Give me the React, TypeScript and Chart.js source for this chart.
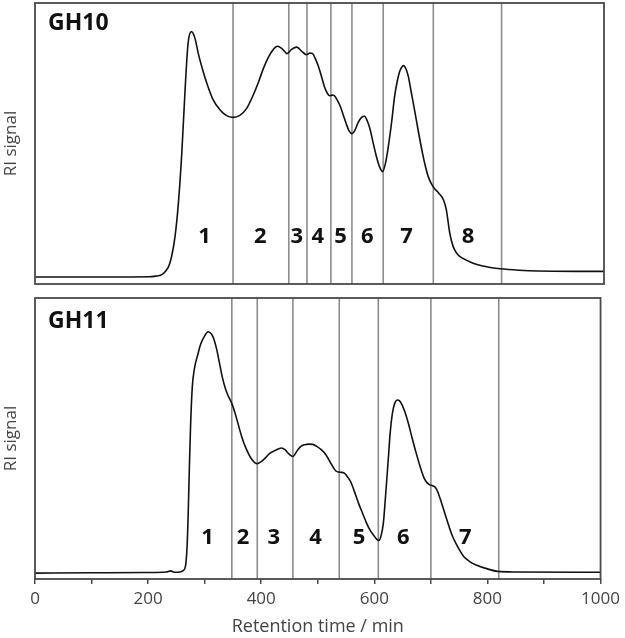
import React, { useEffect, useRef } from "react";
import { Chart, registerables } from "chart.js";

Chart.register(...registerables);

// ---- Data (retention time in min, RI signal in % of panel height) ----
const gh10Time = [0, 100, 200, 212, 220, 228, 237, 246, 252, 258, 264, 269, 275, 281, 287, 295, 302, 312, 325, 336, 348, 360, 372, 383, 393, 402, 411, 419, 426, 434, 443, 451, 460, 468, 477, 483, 488, 493, 498, 504, 509, 514, 518, 522, 526, 531, 537, 542, 547, 552, 557, 563, 568, 574, 579, 584, 589, 594, 600, 606, 611, 616, 621, 627, 632, 637, 641, 645, 648, 652, 656, 661, 667, 674, 681, 686, 691, 697, 702, 709, 718, 723, 729, 735, 741, 747, 758, 770, 785, 800, 818, 850, 884, 950, 1000];
const gh10Signal = [2.5, 2.5, 2.6, 2.8, 3.1, 4.2, 7.4, 16.8, 28.8, 46.6, 70, 85.6, 89.8, 87.5, 82, 76, 71.4, 66, 62, 60, 59.3, 60, 62.5, 67, 72, 77, 81, 83.5, 84.6, 83.8, 82, 83.5, 84.3, 83, 81.6, 82.2, 82, 80, 77.5, 73.5, 70, 67.8, 67, 67.2, 67, 65.5, 63, 60, 57, 54.5, 53.5, 55, 57.5, 59.3, 59.7, 58, 55, 50.5, 45.4, 41.5, 40, 43, 49, 58, 66.8, 72.5, 75.7, 77.3, 77.7, 76.5, 74, 68.5, 62, 54, 46.6, 42, 38.3, 35.5, 34, 32.5, 29.9, 26.3, 18, 13.3, 11, 9.7, 8.5, 7.4, 6.5, 5.9, 5.4, 4.9, 4.6, 4.5, 4.5];

const gh11Time = [0, 100, 200, 232, 240, 246, 256, 262, 266, 269, 271, 273, 275, 278, 282, 288, 293, 300, 306, 312, 316, 321, 326, 331, 337, 342, 348, 353, 358, 365, 372, 382, 393, 400, 407, 414, 421, 429, 436, 442, 449, 456, 463, 470, 477, 484, 491, 498, 505, 512, 518, 523, 528, 533, 540, 547, 552, 558, 565, 572, 579, 586, 593, 600, 604, 608, 612, 616, 620, 625, 628, 632, 636, 641, 645, 649, 654, 660, 667, 674, 681, 688, 693, 698, 703, 709, 714, 719, 726, 733, 738, 744, 751, 758, 768, 779, 800, 818, 850, 1000];
const gh11Signal = [2.1, 2.2, 2.3, 2.5, 2.9, 2.4, 2.5, 3, 4.5, 12, 24, 40, 54, 68, 75, 80, 83.6, 86.5, 88, 87.2, 85.5, 82, 77, 72, 67.5, 65, 62.5, 59.5, 56, 51, 47, 43, 41, 41.8, 43, 44.5, 45.4, 46.2, 46.6, 46, 44.5, 43.6, 45.5, 47.2, 47.8, 48, 47.9, 47.2, 46.2, 44.8, 43, 41.2, 39.5, 38.3, 38, 37.7, 36.5, 34.7, 31, 27, 23.5, 20, 17.2, 15.2, 14.2, 13.7, 15.5, 20, 30, 43.6, 52, 59, 62.5, 63.7, 63.3, 62, 59.5, 55.5, 50, 44.8, 40, 35.9, 34.3, 33.5, 33.2, 32.3, 30, 27, 22.5, 18.1, 15.3, 12.8, 10.2, 8, 6.3, 5.1, 3.6, 2.7, 2.5, 2.4];

const gh10Cuts = [348, 446, 478, 520, 557, 612, 700, 820];
const gh11Cuts = [348, 393, 456, 538, 607, 700, 820];

const gh10Fractions = ["1", "2", "3", "4", "5", "6", "7", "8"];
const gh10FractionX = [298, 396, 460, 497, 537, 584, 653, 761];
const gh11Fractions = ["1", "2", "3", "4", "5", "6", "7"];
const gh11FractionX = [305, 368, 422, 496, 573, 651, 761];

const xTickLabels = [0, 200, 400, 600, 800, 1000];

const FONT = "'Open Sans', 'DejaVu Sans', sans-serif";

type PanelCfg = {
  title: string;
  titleOffset: number;
  time: number[];
  signal: number[];
  cuts: number[];
  fractions: string[];
  fractionX: number[];
  fractionY: number;
  showXAxis: boolean;
};

function makeDecor(cfg: PanelCfg) {
  return {
    id: "panelDecor",
    afterDatasetsDraw(chart: any) {
      const { ctx, chartArea, scales } = chart;
      const xs = scales.x;
      const ys = scales.y;
      ctx.save();
      // box
      ctx.strokeStyle = "#4a4a4a";
      ctx.lineWidth = 1.8;
      ctx.strokeRect(chartArea.left, chartArea.top, chartArea.right - chartArea.left, chartArea.bottom - chartArea.top);
      // fraction numbers
      ctx.fillStyle = "#111";
      ctx.font = `bold 22px ${FONT}`;
      ctx.textAlign = "center";
      ctx.textBaseline = "middle";
      cfg.fractions.forEach((f, i) => {
        ctx.fillText(f, xs.getPixelForValue(cfg.fractionX[i]), ys.getPixelForValue(cfg.fractionY));
      });
      // panel title
      ctx.font = `bold 23px ${FONT}`;
      ctx.textAlign = "left";
      ctx.fillText(cfg.title, chartArea.left + 13, chartArea.top + cfg.titleOffset);
      // y label
      ctx.font = `17px ${FONT}`;
      ctx.fillStyle = "#444";
      ctx.textAlign = "center";
      ctx.translate(11, (chartArea.top + chartArea.bottom) / 2);
      ctx.rotate(-Math.PI / 2);
      ctx.fillText("RI signal", 0, 0);
      ctx.restore();
    },
  };
}

function Panel({ cfg, height, padTop, padBottom }: { cfg: PanelCfg; height: number; padTop: number; padBottom: number }) {
  const ref = useRef<HTMLCanvasElement | null>(null);
  useEffect(() => {
    if (!ref.current) return;
    const datasets: any[] = [
      {
        data: cfg.time.map((t, i) => ({ x: t, y: cfg.signal[i] })),
        borderColor: "#111",
        borderWidth: 1.6,
        pointRadius: 0,
        cubicInterpolationMode: "monotone",
        fill: false,
        order: 0,
      },
      ...cfg.cuts.map((c) => ({
        data: [
          { x: c, y: 0 },
          { x: c, y: 100 },
        ],
        borderColor: "#8c8c8c",
        borderWidth: 1.6,
        pointRadius: 0,
        fill: false,
        order: 1,
      })),
    ];
    const chart = new Chart(ref.current, {
      type: "line",
      data: { datasets },
      plugins: [makeDecor(cfg)],
      options: {
        animation: false,
        responsive: false,
        maintainAspectRatio: false,
        layout: { padding: { left: 35, right: 21, top: padTop, bottom: padBottom } },
        plugins: { legend: { display: false }, tooltip: { enabled: false } },
        scales: {
          x: {
            type: "linear",
            min: 0,
            max: 1000,
            display: cfg.showXAxis,
            border: { display: false },
            grid: { drawOnChartArea: false, drawTicks: true, tickLength: 5, color: "#4a4a4a", lineWidth: 1.5 },
            ticks: {
              stepSize: 100,
              autoSkip: false,
              maxRotation: 0,
              padding: 5,
              color: "#444",
              font: { family: FONT, size: 17 },
              callback: (v: any) => (xTickLabels.includes(Number(v)) ? String(v) : ""),
            },
            title: {
              display: cfg.showXAxis,
              text: "Retention time / min",
              color: "#444",
              font: { family: FONT, size: 18 },
              padding: { top: 0, bottom: 0 },
            },
            afterFit: (s: any) => {
              if (cfg.showXAxis) s.height = 59;
            },
          } as any,
          y: { type: "linear", min: 0, max: 100, display: false },
        },
      },
    });
    return () => chart.destroy();
  }, []);
  return <canvas ref={ref} width={625} height={height} style={{ display: "block", width: 625, height }} />;
}

const gh10Cfg: PanelCfg = {
  title: "GH10",
  titleOffset: 20,
  time: gh10Time,
  signal: gh10Signal,
  cuts: gh10Cuts,
  fractions: gh10Fractions,
  fractionX: gh10FractionX,
  fractionY: 16.8,
  showXAxis: false,
};

const gh11Cfg: PanelCfg = {
  title: "GH11",
  titleOffset: 23,
  time: gh11Time,
  signal: gh11Signal,
  cuts: gh11Cuts,
  fractions: gh11Fractions,
  fractionX: gh11FractionX,
  fractionY: 14.6,
  showXAxis: true,
};

export default function App() {
  return (
    <div style={{ position: "absolute", left: 0, top: 0, width: 625, height: 638, background: "#fff" }}>
      <Panel cfg={gh10Cfg} height={292} padTop={3} padBottom={8} />
      <Panel cfg={gh11Cfg} height={346} padTop={6} padBottom={0} />
    </div>
  );
}
